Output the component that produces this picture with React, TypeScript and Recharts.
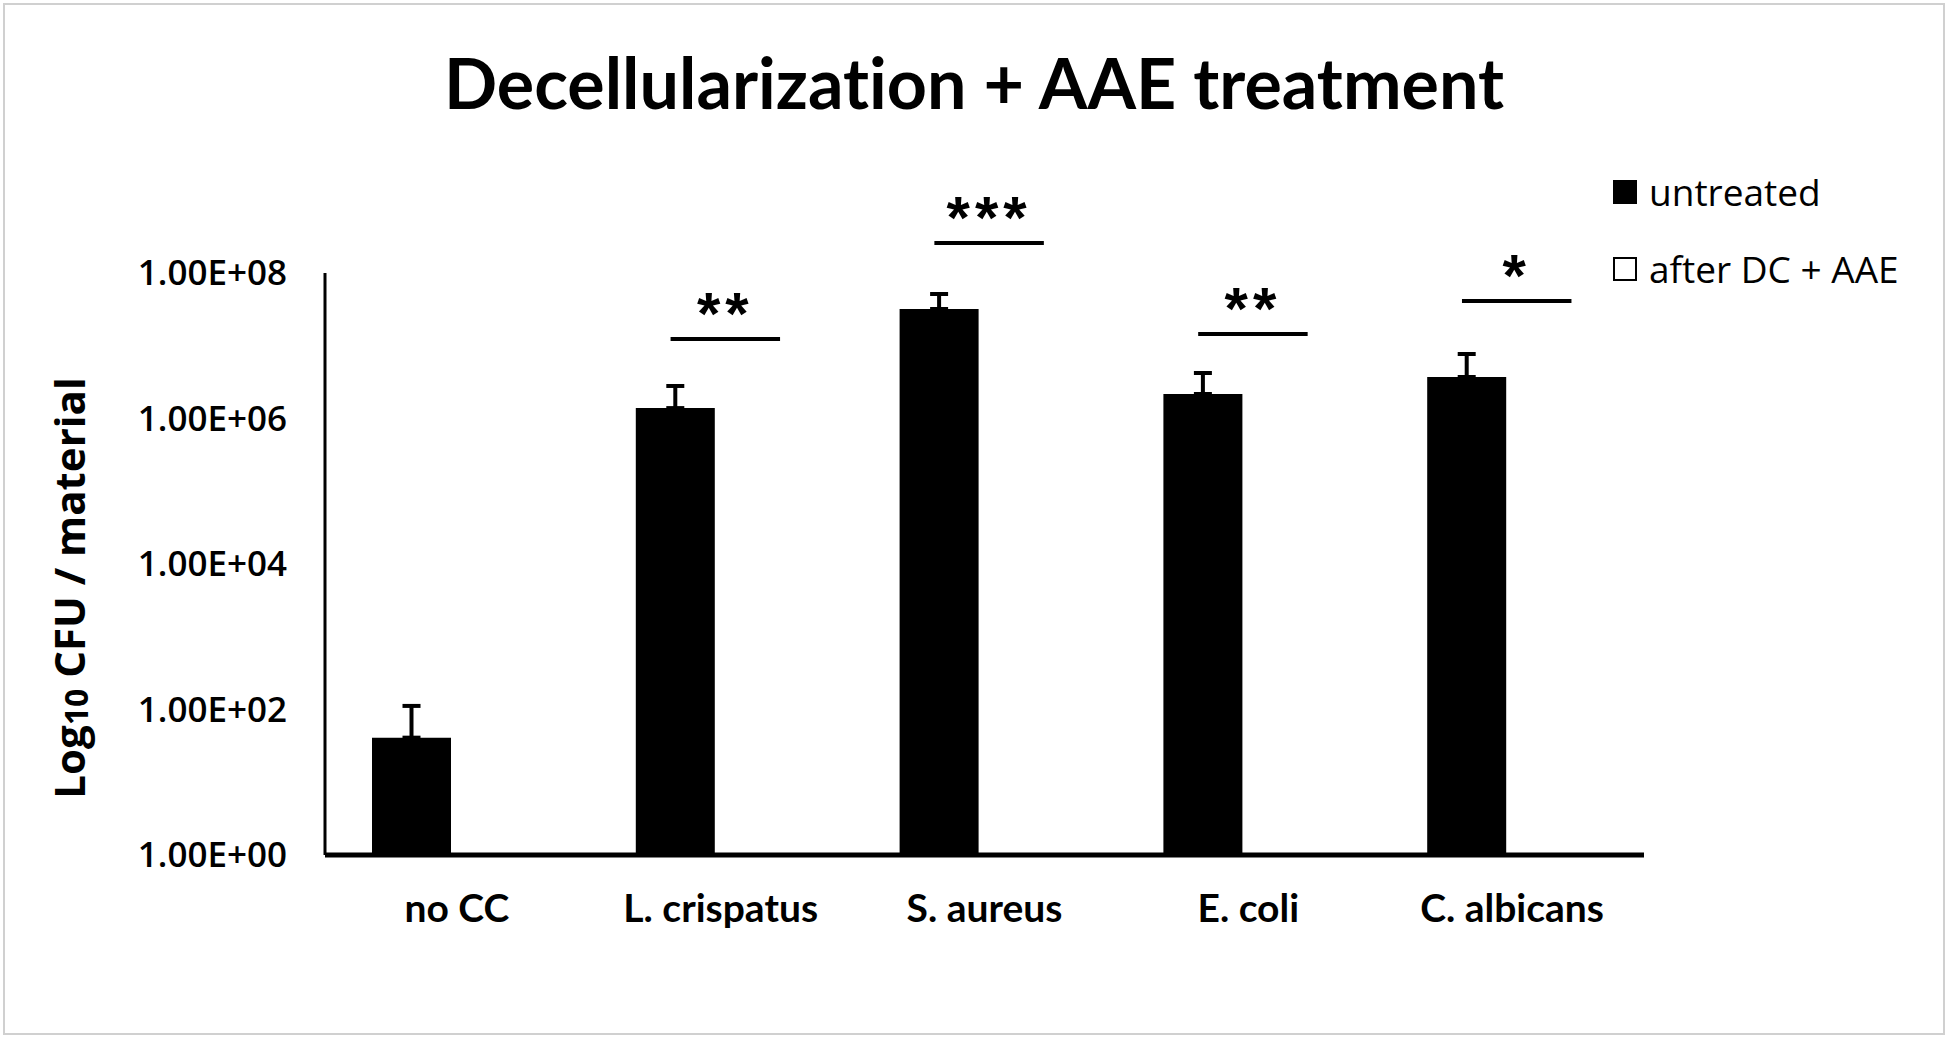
import React from "react";
import {
  Bar,
  BarChart,
  ErrorBar,
  Legend,
  ReferenceLine,
  XAxis,
  YAxis,
} from "recharts";

const TITLE = "Decellularization + AAE treatment";

const categories = ["no CC", "L. crispatus", "S. aureus", "E. coli", "C. albicans"];
const untreated = [41, 1.39e6, 3.2e7, 2.17e6, 3.72e6];
const untreatedSd = [71, 1.41e6, 1.94e7, 2.05e6, 3.98e6];
const afterDcAae = [1, 1, 1, 1, 1];
const sigLevel = [null, 1.24e7, 2.58e8, 1.45e7, 4.12e7];
const sigMarks = ["", "**", "***", "**", "*"];
const yTicks = [1, 1e2, 1e4, 1e6, 1e8];
const seriesNames = ["untreated", "after DC + AAE"];

// significance bars run from the untreated bar to past the (empty) treated bar
const SIG_FROM = 0.31;
const SIG_TO = 0.725;

const data = categories.map((name, i) => ({
  name,
  idx: i,
  untreated: untreated[i],
  err: [0, untreatedSd[i]],
  after: afterDcAae[i],
}));

const sci = (v: number) =>
  `1.00E+${String(Math.round(Math.log10(v))).padStart(2, "0")}`;

const YLabel = (props: any) => {
  const vb = props.viewBox || { x: 20, y: 273, width: 305, height: 582 };
  const x = vb.x + 65;
  const y = vb.y + vb.height / 2 + 24;
  return (
    <text
      x={x}
      y={y}
      transform={`rotate(-90 ${x} ${y})`}
      textAnchor="middle"
      fontFamily="Open Sans"
      fontWeight={700}
      fontSize={42}
      fill="#000"
    >
      Log
      <tspan fontSize={32} dy={3}>
        10
      </tspan>
      <tspan dy={-3}> CFU / material</tspan>
    </text>
  );
};

const LegendBox = ({ payload }: any) => {
  const items = [...(payload || [])].sort(
    (a: any, b: any) => seriesNames.indexOf(a.value) - seriesNames.indexOf(b.value)
  );
  return (
    <div>
      {items.map((item: any) => (
        <div
          key={item.value}
          style={{ display: "flex", alignItems: "center", height: 77 }}
        >
          <span
            style={{
              width: 24,
              height: 24,
              boxSizing: "border-box",
              background: item.color,
              border: "2.5px solid #000",
            }}
          />
          <span
            style={{
              marginLeft: 12,
              fontFamily: "Open Sans",
              fontSize: 37,
              color: "#000",
              whiteSpace: "nowrap",
            }}
          >
            {item.value}
          </span>
        </div>
      ))}
    </div>
  );
};

export default function App() {
  return (
    <div
      style={{
        position: "absolute",
        left: 0,
        top: 0,
        width: 1948,
        height: 1038,
        background: "#fff",
      }}
    >
      <div
        style={{
          position: "absolute",
          left: 3,
          top: 3,
          width: 1942,
          height: 1032,
          boxSizing: "border-box",
          border: "2px solid #d0d0d0",
        }}
      />
      <div
        style={{
          position: "absolute",
          left: 0,
          top: 47,
          width: 1948,
          textAlign: "center",
          fontFamily: "Lato",
          fontWeight: 700,
          fontSize: 70,
          lineHeight: "70px",
          fontVariantLigatures: "none",
          color: "#000",
        }}
      >
        {TITLE}
      </div>
      <BarChart
        width={1948}
        height={1038}
        data={data}
        margin={{ top: 273, right: 4, bottom: 123, left: 20 }}
        barCategoryGap={47}
        barGap={12}
      >
        <XAxis
          dataKey="name"
          interval={0}
          height={60}
          tickLine={false}
          tickSize={0}
          tickMargin={39}
          axisLine={{ stroke: "#000", strokeWidth: 5 }}
          tick={{ fontFamily: "Lato", fontWeight: 700, fontSize: 39, fill: "#000" }}
        />
        <XAxis
          xAxisId="sig"
          dataKey="idx"
          type="number"
          domain={[0, 5]}
          allowDataOverflow
          hide
        />
        <YAxis
          width={305}
          scale="log"
          domain={[1, 1e8]}
          allowDataOverflow
          ticks={yTicks}
          tickFormatter={sci}
          tickLine={false}
          tickSize={0}
          tickMargin={38}
          axisLine={{ stroke: "#000", strokeWidth: 3 }}
          tick={{ fontFamily: "Open Sans", fontWeight: 600, fontSize: 35, fill: "#000" }}
          label={{ content: YLabel }}
        />
        <Legend
          layout="vertical"
          align="right"
          verticalAlign="top"
          width={300}
          content={<LegendBox />}
          wrapperStyle={{ top: 153, left: 1613, width: 300 }}
        />
        <Bar
          dataKey="untreated"
          name="untreated"
          fill="#000"
          isAnimationActive={false}
        >
          <ErrorBar
            dataKey="err"
            direction="y"
            width={9}
            stroke="#000"
            strokeWidth={4}
            isAnimationActive={false}
          />
        </Bar>
        <Bar
          dataKey="after"
          name="after DC + AAE"
          fill="#fff"
          stroke="#000"
          isAnimationActive={false}
        />
        {sigLevel.map((lvl, i) =>
          lvl == null ? null : (
            <ReferenceLine
              key={categories[i]}
              xAxisId="sig"
              segment={[
                { x: i + SIG_FROM, y: lvl },
                { x: i + SIG_TO, y: lvl },
              ]}
              stroke="#000"
              strokeWidth={4}
              ifOverflow="visible"
              label={{
                value: sigMarks[i],
                position: "top",
                offset: 5,
                fill: "#000",
                fontSize: 60,
                fontWeight: 700,
                fontFamily: "Liberation Sans",
                letterSpacing: 5,
              }}
            />
          )
        )}
      </BarChart>
    </div>
  );
}
